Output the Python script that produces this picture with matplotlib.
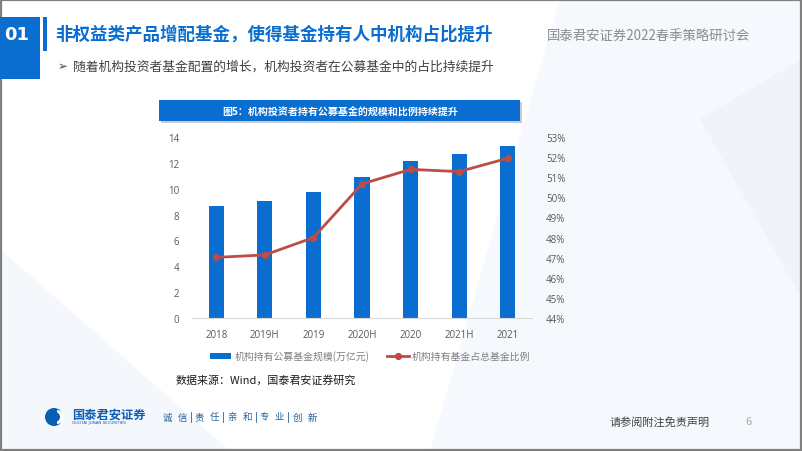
import matplotlib
matplotlib.use("Agg")
import matplotlib.pyplot as plt
from matplotlib.patches import Rectangle, Polygon, Circle, Wedge
from matplotlib.lines import Line2D
from matplotlib.ticker import FuncFormatter

plt.rcParams['font.family'] = ['Noto Sans CJK SC', 'DejaVu Sans']

# ---------------- data ----------------
categories = ["2018", "2019H", "2019", "2020H", "2020", "2021H", "2021"]
scale_trillion = [8.66, 9.05, 9.71, 10.92, 12.15, 12.67, 13.28]
inst_share_pct = [47.02, 47.14, 48.0, 50.66, 51.38, 51.27, 51.93]
left_ticks = [0, 2, 4, 6, 8, 10, 12, 14]
right_ticks = [44, 45, 46, 47, 48, 49, 50, 51, 52, 53]
bar_label = "机构持有公募基金规模(万亿元)"
line_label = "机构持有基金占总基金比例"
slogan_words = ["诚信", "责任", "亲和", "专业", "创新"]

W, H = 802, 452
fig = plt.figure(figsize=(W / 100, H / 100), dpi=100)
fig.patch.set_facecolor("white")

def fx(x):
    return x / W

def fy(y):
    return 1 - y / H

# background layer
bg = fig.add_axes([0, 0, 1, 1], zorder=0)
bg.set_xlim(0, W)
bg.set_ylim(H, 0)
bg.axis("off")
bg.add_patch(Polygon([[560, 0], [802, 0], [802, 452], [430, 452]], closed=True,
                     facecolor="#f5f8fc", edgecolor="none"))
bg.add_patch(Polygon([[0, 250], [230, 452], [0, 452]], closed=True,
                     facecolor="#f4f7fb", edgecolor="none"))
bg.add_patch(Polygon([[700, 120], [802, 60], [802, 300]], closed=True,
                     facecolor="#f0f4f9", edgecolor="none"))
# slide frame
bg.add_patch(Rectangle((0.5, 0.5), W - 1.5, H - 1.5, facecolor="none",
                       edgecolor="#808080", linewidth=1.6))
# header blue box and bar
bg.add_patch(Rectangle((0, 18), 40, 62, facecolor="#0a6ed1", edgecolor="none"))
bg.add_patch(Rectangle((43, 18), 4, 34, facecolor="#0a6ed1", edgecolor="none"))
# chart title band with shadow
bg.add_patch(Rectangle((161, 103), 361, 21, facecolor="#c8ccd2", edgecolor="none"))
bg.add_patch(Rectangle((159, 101), 361, 21, facecolor="#0a6ed1", edgecolor="none"))
# logo
bg.add_patch(Circle((54, 418), 9, facecolor="#0a5fb4", edgecolor="none"))
bg.add_patch(Wedge((57, 418), 7, -90, 90, facecolor="white", edgecolor="none"))
bg.add_patch(Circle((55, 418), 5, facecolor="#0a5fb4", edgecolor="none"))

# header texts
fig.text(fx(17), fy(35), "01", color="white", fontsize=13, fontweight="bold",
         ha="center", va="center", family=["DejaVu Sans"])
fig.text(fx(55), fy(35), "非权益类产品增配基金，使得基金持有人中机构占比提升",
         color="#0a6ed1", fontsize=12.6, fontweight="bold", ha="left", va="center")
fig.text(fx(547), fy(36), "国泰君安证券2022春季策略研讨会", color="#8c8c8c",
         fontsize=9.6, ha="left", va="center")
fig.text(fx(58), fy(67), "➢", color="#404040", fontsize=8.5, ha="left", va="center",
         family=["DejaVu Sans"])
fig.text(fx(73), fy(67), "随着机构投资者基金配置的增长，机构投资者在公募基金中的占比持续提升",
         color="#404040", fontsize=9.2, ha="left", va="center")
fig.text(fx(340), fy(111.5), "图5：机构投资者持有公募基金的规模和比例持续提升",
         color="white", fontsize=7.2, fontweight="bold", ha="center", va="center")

# ---------------- chart ----------------
ax = fig.add_axes([fx(192), fy(319.3), fx(532) - fx(192), (319.3 - 137.7) / H], zorder=2)
ax.patch.set_alpha(0)
x = list(range(len(categories)))
ax.bar(x, scale_trillion, width=0.31, color="#0a6ed1", zorder=2, label=bar_label)
ax.set_xlim(-0.5, len(categories) - 0.5)
ax.set_ylim(0, 14)
ax.set_yticks(left_ticks)
ax.set_xticks(x)
ax.set_xticklabels(categories)
for s in ["top", "left", "right"]:
    ax.spines[s].set_visible(False)
ax.spines["bottom"].set_color("#d9d9d9")
ax.spines["bottom"].set_linewidth(0.8)
ax.tick_params(axis="both", length=0, labelsize=7, labelcolor="#595959")
ax.tick_params(axis="y", pad=9)
ax.tick_params(axis="x", pad=8)

ax2 = ax.twinx()
ax2.set_zorder(3)
ax2.plot(x, inst_share_pct, color="#be4b48", linewidth=2.0, marker="o",
         markersize=4.2, zorder=3, label=line_label)
ax2.set_ylim(44, 53)
ax2.set_yticks(right_ticks)
ax2.yaxis.set_major_formatter(FuncFormatter(lambda v, p: f"{v:.0f}%"))
for s in ["top", "left", "right", "bottom"]:
    ax2.spines[s].set_visible(False)
ax2.tick_params(axis="y", length=0, labelsize=7, labelcolor="#595959", pad=10)

for t in ax.get_xticklabels() + ax.get_yticklabels() + ax2.get_yticklabels():
    t.set_family(["Open Sans", "DejaVu Sans"])

handles = [Rectangle((0, 0), 1, 1, facecolor="#0a6ed1", edgecolor="none"),
           Line2D([0], [0], color="#be4b48", linewidth=2.0, marker="o", markersize=4.2)]
leg = fig.legend(handles, [bar_label, line_label], loc="center",
                 bbox_to_anchor=(fx(370), fy(357)), ncol=2, frameon=False,
                 fontsize=7.1, handlelength=2.2, handleheight=0.6,
                 handletextpad=0.3, columnspacing=1.8, labelcolor="#7f7f7f")

fig.text(fx(176), fy(380), "数据来源：Wind，国泰君安证券研究", color="#1a1a1a",
         fontsize=7.9, ha="left", va="center")

# footer
fig.text(fx(72), fy(415), "国泰君安证券", color="#0a5fb4", fontsize=8.8,
         fontweight="bold", ha="left", va="center")
fig.text(fx(72), fy(423.5), "GUOTAI JUNAN SECURITIES", color="#0a5fb4", fontsize=2.9,
         ha="left", va="center", family=["DejaVu Sans"])
for i, word in enumerate(slogan_words):
    s = 167 + 32.5 * i
    fig.text(fx(s), fy(418), word[0], color="#2b5f9e", fontsize=6.8,
             ha="center", va="center")
    fig.text(fx(s + 15), fy(418), word[1], color="#2b5f9e", fontsize=6.8,
             ha="center", va="center")
    if i < len(slogan_words) - 1:
        bg.plot([s + 23.75, s + 23.75], [413, 423], color="#2b5f9e", linewidth=0.6)
fig.text(fx(610), fy(422), "请参阅附注免责声明", color="#404040", fontsize=8,
         ha="left", va="center")
fig.text(fx(749), fy(422), "6", color="#a6a6a6", fontsize=8, ha="center", va="center")

fig.savefig("out.png", dpi=100, facecolor=fig.get_facecolor())
